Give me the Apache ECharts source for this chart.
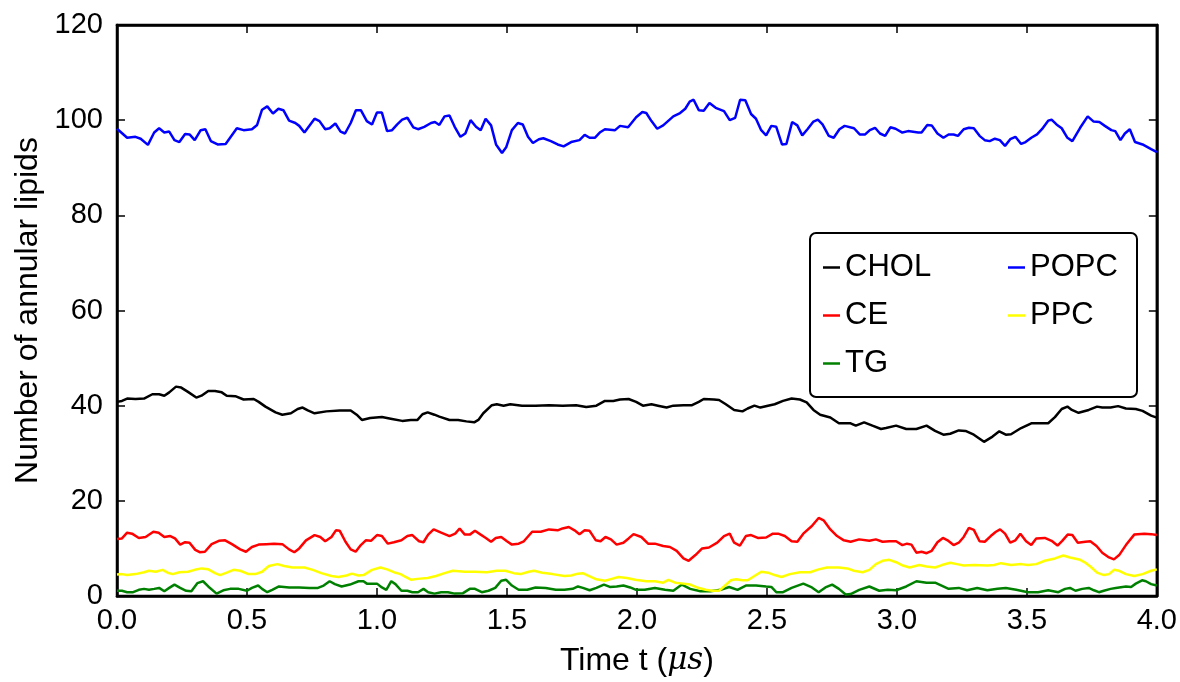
<!DOCTYPE html>
<html><head><meta charset="utf-8">
<script src="https://cdn.jsdelivr.net/npm/echarts@6/dist/echarts.min.js"></script>
<style>html,body{margin:0;padding:0;background:#fff}#c{width:1180px;height:682px}</style>
</head><body><div id="c"></div>
<script>
// ---- data: [time (µs), number of annular lipids] ----
const seriesNames = ['CHOL', 'CE', 'TG', 'POPC', 'PPC'];
const seriesColors = ['#000000', '#ff0000', '#008000', '#0000ff', '#ffff00'];
const legendCol1 = ['CHOL', 'CE', 'TG'];
const legendCol2 = ['POPC', 'PPC'];
const xTicks = { min: 0, max: 4, interval: 0.5 };
const yTicks = { min: 0, max: 120, interval: 20 };

const POPC = [[0.00,98.2],[0.039,96.3],[0.071,96.5],[0.091,96.1],[0.119,94.8],[0.143,97.4],[0.162,98.3],[0.182,97.4],[0.201,97.6],[0.221,95.8],[0.240,95.4],[0.262,97.1],[0.279,97.0],[0.299,95.8],[0.322,97.9],[0.340,98.1],[0.361,95.6],[0.387,94.9],[0.418,95.0],[0.461,98.3],[0.487,97.9],[0.519,98.1],[0.539,99.0],[0.558,102.2],[0.578,102.9],[0.600,101.4],[0.621,102.4],[0.640,102.1],[0.662,99.9],[0.686,99.4],[0.701,98.8],[0.721,97.4],[0.760,100.3],[0.779,99.8],[0.801,98.1],[0.818,98.3],[0.840,99.3],[0.860,97.6],[0.877,97.2],[0.899,99.4],[0.919,102.1],[0.938,102.1],[0.961,99.8],[0.981,99.1],[1.000,101.6],[1.019,101.6],[1.039,97.7],[1.058,97.9],[1.078,99.1],[1.097,100.1],[1.117,100.5],[1.140,98.5],[1.158,98.1],[1.182,98.6],[1.208,99.4],[1.223,99.6],[1.240,99.0],[1.260,100.8],[1.279,101.0],[1.299,98.6],[1.321,96.5],[1.340,97.2],[1.360,100.0],[1.381,98.6],[1.399,97.9],[1.418,100.3],[1.439,98.9],[1.458,94.9],[1.481,93.1],[1.497,94.3],[1.519,97.9],[1.542,99.4],[1.561,99.1],[1.581,96.5],[1.600,95.2],[1.623,96.0],[1.640,96.2],[1.669,95.6],[1.695,94.9],[1.718,94.5],[1.747,95.4],[1.779,95.8],[1.799,96.9],[1.818,96.3],[1.838,96.3],[1.857,97.4],[1.877,98.1],[1.916,97.9],[1.935,98.8],[1.966,98.5],[1.997,100.6],[2.021,101.7],[2.036,101.5],[2.056,99.8],[2.078,98.2],[2.101,98.9],[2.140,100.8],[2.166,101.5],[2.186,102.4],[2.203,103.9],[2.218,104.3],[2.238,102.1],[2.257,102.0],[2.279,103.6],[2.303,102.6],[2.335,101.9],[2.357,100.0],[2.378,100.5],[2.397,104.3],[2.417,104.2],[2.439,101.3],[2.458,100.3],[2.478,97.9],[2.497,96.8],[2.517,98.8],[2.536,98.6],[2.558,94.9],[2.575,95.0],[2.597,99.6],[2.617,98.9],[2.636,96.8],[2.656,98.1],[2.679,99.7],[2.696,100.1],[2.714,99.1],[2.738,96.7],[2.757,96.3],[2.779,98.1],[2.799,98.8],[2.835,98.3],[2.857,97.0],[2.878,97.0],[2.896,97.9],[2.916,98.4],[2.935,97.2],[2.955,96.7],[2.975,98.5],[2.995,98.2],[3.021,97.4],[3.043,97.7],[3.082,97.4],[3.095,97.4],[3.117,99.0],[3.134,98.9],[3.156,97.2],[3.179,96.3],[3.199,97.0],[3.218,97.0],[3.235,96.7],[3.257,98.1],[3.277,98.4],[3.296,98.3],[3.318,96.7],[3.338,95.8],[3.357,95.6],[3.377,96.1],[3.396,95.8],[3.416,94.6],[3.436,96.0],[3.456,96.5],[3.478,95.0],[3.495,95.4],[3.517,96.3],[3.539,97.0],[3.558,98.1],[3.582,99.9],[3.595,100.1],[3.614,99.1],[3.634,98.3],[3.656,96.3],[3.675,95.6],[3.705,98.4],[3.734,100.8],[3.757,99.7],[3.779,99.6],[3.800,98.8],[3.825,97.9],[3.840,97.7],[3.860,95.8],[3.877,97.2],[3.896,98.1],[3.916,95.4],[3.945,94.9],[3.978,93.9],[4.000,93.3]];

const CHOL = [[0.00,40.8],[0.019,41.0],[0.039,41.5],[0.071,41.4],[0.104,41.5],[0.136,42.4],[0.162,42.4],[0.182,42.1],[0.201,42.8],[0.227,44.0],[0.247,43.8],[0.273,42.9],[0.305,41.7],[0.325,42.1],[0.351,43.1],[0.377,43.1],[0.403,42.8],[0.422,42.1],[0.455,42.0],[0.487,41.3],[0.526,41.4],[0.545,40.8],[0.571,39.8],[0.610,38.6],[0.636,38.1],[0.669,38.4],[0.695,39.3],[0.714,39.6],[0.734,39.0],[0.760,38.4],[0.805,38.8],[0.857,39.0],[0.899,39.0],[0.922,38.1],[0.942,37.0],[0.974,37.4],[1.019,37.6],[1.058,37.2],[1.097,36.8],[1.130,37.0],[1.156,37.0],[1.175,38.2],[1.195,38.6],[1.221,38.1],[1.240,37.7],[1.279,37.0],[1.312,37.0],[1.344,36.7],[1.374,36.5],[1.390,37.0],[1.409,38.4],[1.442,40.1],[1.461,40.3],[1.487,40.0],[1.513,40.3],[1.558,40.0],[1.610,40.0],[1.662,40.1],[1.714,40.0],[1.766,40.1],[1.805,39.7],[1.844,40.0],[1.877,41.0],[1.909,41.0],[1.935,41.3],[1.968,41.4],[1.997,40.8],[2.023,40.0],[2.056,40.3],[2.081,40.0],[2.114,39.6],[2.140,40.0],[2.179,40.1],[2.212,40.1],[2.238,40.8],[2.257,41.4],[2.296,41.3],[2.316,41.2],[2.342,40.3],[2.374,39.1],[2.406,38.8],[2.426,39.4],[2.452,40.0],[2.475,39.6],[2.504,40.0],[2.530,40.3],[2.562,41.0],[2.595,41.5],[2.627,41.3],[2.653,40.7],[2.679,39.1],[2.705,38.1],[2.744,37.5],[2.777,36.3],[2.822,36.3],[2.842,35.8],[2.874,36.5],[2.906,35.8],[2.939,35.1],[2.958,35.3],[2.997,35.8],[3.036,35.1],[3.075,35.1],[3.114,35.8],[3.147,34.7],[3.179,33.9],[3.205,34.1],[3.238,34.8],[3.264,34.7],[3.296,33.9],[3.335,32.4],[3.368,33.5],[3.394,34.6],[3.419,33.9],[3.439,34.0],[3.478,35.3],[3.517,36.3],[3.582,36.3],[3.608,37.6],[3.634,39.3],[3.656,39.8],[3.673,39.1],[3.699,38.5],[3.738,39.1],[3.770,39.8],[3.790,39.6],[3.822,39.6],[3.851,39.9],[3.881,39.4],[3.919,39.3],[3.945,38.9],[3.978,37.9],[4.000,37.5]];

const CE = [[0.00,12.0],[0.019,12.1],[0.039,13.3],[0.058,13.1],[0.084,12.2],[0.110,12.4],[0.140,13.5],[0.160,13.3],[0.182,12.4],[0.205,12.6],[0.223,12.1],[0.243,10.8],[0.262,11.3],[0.279,11.2],[0.301,9.7],[0.318,9.2],[0.338,9.3],[0.364,10.9],[0.392,11.6],[0.416,11.7],[0.442,10.9],[0.474,9.8],[0.496,9.3],[0.519,10.3],[0.545,10.8],[0.574,10.9],[0.604,11.0],[0.636,10.9],[0.662,9.8],[0.682,9.2],[0.701,10.0],[0.727,11.7],[0.760,12.8],[0.782,12.4],[0.801,11.5],[0.825,12.4],[0.842,13.8],[0.857,13.7],[0.879,11.4],[0.899,9.8],[0.918,9.3],[0.938,10.7],[0.957,11.7],[0.977,11.6],[1.000,12.8],[1.019,12.6],[1.042,11.0],[1.065,11.3],[1.094,11.7],[1.117,12.6],[1.136,12.8],[1.162,11.5],[1.179,11.3],[1.197,12.9],[1.218,14.0],[1.247,13.3],[1.279,12.6],[1.301,13.1],[1.318,14.2],[1.338,12.9],[1.357,12.9],[1.377,13.7],[1.399,12.9],[1.416,12.3],[1.439,11.4],[1.457,12.2],[1.478,12.4],[1.500,11.5],[1.519,10.8],[1.545,11.0],[1.565,11.5],[1.597,13.5],[1.630,13.5],[1.662,14.0],[1.695,13.8],[1.714,14.2],[1.738,14.5],[1.760,13.8],[1.779,13.0],[1.799,13.8],[1.818,13.7],[1.842,11.7],[1.860,11.5],[1.879,12.4],[1.900,11.9],[1.922,10.8],[1.948,11.2],[1.968,12.1],[1.987,13.0],[2.017,12.4],[2.043,11.0],[2.069,11.0],[2.101,10.5],[2.127,10.3],[2.153,9.5],[2.179,7.9],[2.199,7.4],[2.225,8.6],[2.251,10.0],[2.277,10.2],[2.309,11.2],[2.335,12.6],[2.357,13.1],[2.374,11.2],[2.396,10.6],[2.419,12.6],[2.439,12.8],[2.465,12.2],[2.497,12.3],[2.523,13.1],[2.543,13.1],[2.569,12.6],[2.595,11.5],[2.617,11.4],[2.640,13.1],[2.673,14.7],[2.699,16.4],[2.718,15.9],[2.744,14.0],[2.770,12.6],[2.796,11.7],[2.822,11.4],[2.855,11.9],[2.894,11.6],[2.919,11.9],[2.945,11.4],[2.971,11.5],[2.997,11.5],[3.021,10.7],[3.039,11.0],[3.056,10.8],[3.075,9.1],[3.095,9.3],[3.114,9.0],[3.134,9.5],[3.156,11.3],[3.177,12.2],[3.195,11.7],[3.218,10.7],[3.238,11.2],[3.257,12.4],[3.277,14.3],[3.296,13.9],[3.318,11.5],[3.338,11.4],[3.361,12.6],[3.381,13.5],[3.397,14.0],[3.416,13.1],[3.436,11.2],[3.456,11.7],[3.475,13.1],[3.497,11.5],[3.517,10.7],[3.536,12.1],[3.569,12.2],[3.595,11.6],[3.618,10.6],[3.636,11.6],[3.657,12.9],[3.675,12.8],[3.696,11.2],[3.725,11.4],[3.744,11.5],[3.768,10.5],[3.790,9.1],[3.816,8.1],[3.835,7.7],[3.855,8.6],[3.881,10.7],[3.913,12.9],[3.952,13.1],[3.978,13.0],[4.000,12.8]];

const PPC = [[0.00,4.5],[0.019,4.6],[0.039,4.4],[0.071,4.6],[0.104,5.0],[0.123,5.3],[0.149,5.1],[0.175,5.5],[0.195,4.9],[0.214,4.6],[0.240,5.0],[0.273,5.1],[0.299,5.5],[0.325,5.8],[0.351,5.6],[0.377,4.8],[0.396,4.4],[0.422,4.9],[0.448,5.5],[0.474,5.3],[0.506,4.6],[0.532,4.6],[0.558,5.1],[0.584,6.3],[0.617,6.7],[0.643,6.3],[0.675,6.0],[0.721,6.0],[0.753,5.5],[0.786,4.8],[0.825,4.2],[0.851,4.0],[0.883,4.3],[0.903,4.7],[0.929,4.3],[0.948,4.4],[0.981,5.5],[1.013,6.0],[1.039,5.6],[1.065,5.0],[1.091,4.6],[1.110,4.0],[1.132,3.4],[1.156,3.6],[1.195,3.8],[1.227,4.2],[1.260,4.8],[1.292,5.3],[1.338,5.1],[1.377,5.1],[1.422,5.0],[1.461,5.3],[1.494,5.3],[1.526,4.8],[1.552,4.6],[1.584,5.1],[1.604,5.3],[1.636,4.9],[1.675,4.6],[1.721,4.2],[1.747,4.3],[1.773,4.7],[1.792,4.8],[1.812,4.3],[1.844,3.5],[1.877,3.2],[1.903,3.6],[1.929,4.0],[1.961,3.8],[1.994,3.4],[2.036,3.1],[2.069,3.1],[2.101,2.8],[2.121,3.4],[2.147,2.8],[2.179,2.6],[2.205,2.4],[2.231,1.8],[2.264,1.3],[2.290,1.1],[2.316,1.1],[2.335,2.0],[2.361,3.3],[2.381,3.5],[2.406,3.3],[2.426,3.3],[2.452,4.2],[2.478,5.1],[2.504,4.9],[2.530,4.4],[2.556,4.0],[2.588,4.6],[2.627,5.0],[2.666,5.0],[2.699,5.6],[2.731,6.0],[2.777,6.0],[2.809,5.8],[2.835,5.3],[2.868,5.0],[2.894,5.5],[2.919,6.7],[2.945,7.4],[2.971,7.6],[2.997,7.1],[3.023,6.4],[3.049,6.0],[3.086,6.5],[3.114,6.2],[3.147,6.0],[3.173,6.5],[3.205,7.0],[3.231,6.7],[3.257,6.4],[3.296,6.5],[3.348,6.4],[3.374,6.5],[3.400,6.9],[3.439,6.5],[3.478,6.7],[3.504,6.5],[3.536,6.7],[3.569,7.4],[3.608,7.9],[3.640,8.5],[3.666,8.1],[3.705,7.6],[3.725,7.0],[3.744,6.2],[3.770,4.9],[3.796,4.4],[3.816,4.6],[3.835,5.5],[3.855,5.3],[3.881,4.6],[3.913,4.2],[3.945,4.6],[3.978,5.3],[4.000,5.6]];

const TG = [[0.00,1.1],[0.019,1.1],[0.039,0.8],[0.062,0.8],[0.084,1.3],[0.104,1.5],[0.123,1.3],[0.143,1.5],[0.162,1.7],[0.182,1.0],[0.201,1.7],[0.221,2.4],[0.243,1.7],[0.266,1.1],[0.286,1.0],[0.309,2.7],[0.331,3.1],[0.351,2.0],[0.383,0.5],[0.409,1.2],[0.435,1.5],[0.468,1.5],[0.500,1.1],[0.519,1.7],[0.543,2.2],[0.558,1.5],[0.578,0.8],[0.597,1.3],[0.623,2.0],[0.662,1.8],[0.701,1.8],[0.740,1.7],[0.773,1.7],[0.795,2.2],[0.818,3.1],[0.838,2.5],[0.864,2.0],[0.896,2.4],[0.929,3.1],[0.948,3.1],[0.961,2.6],[1.000,2.6],[1.019,1.8],[1.036,1.3],[1.055,3.1],[1.071,2.5],[1.094,1.1],[1.117,1.1],[1.136,0.8],[1.158,0.8],[1.179,1.5],[1.197,0.8],[1.221,0.5],[1.247,0.8],[1.273,0.8],[1.299,0.5],[1.331,0.6],[1.357,1.5],[1.377,1.5],[1.403,0.8],[1.429,1.1],[1.455,1.7],[1.478,3.2],[1.497,3.4],[1.519,2.2],[1.545,1.3],[1.578,1.3],[1.610,1.8],[1.649,1.7],[1.688,1.3],[1.721,1.3],[1.753,1.5],[1.773,2.0],[1.792,1.7],[1.818,1.2],[1.844,1.7],[1.873,2.4],[1.896,1.9],[1.922,2.0],[1.948,2.2],[1.974,1.8],[1.997,1.3],[2.030,1.3],[2.069,1.7],[2.108,1.3],[2.140,1.1],[2.173,2.4],[2.205,1.5],[2.244,1.0],[2.283,1.0],[2.322,1.3],[2.355,1.9],[2.387,1.3],[2.419,2.2],[2.458,2.2],[2.497,2.0],[2.517,1.9],[2.536,0.8],[2.562,0.8],[2.595,1.7],[2.640,2.6],[2.673,1.8],[2.699,0.8],[2.725,1.8],[2.751,2.4],[2.777,1.5],[2.803,0.3],[2.822,0.4],[2.855,1.3],[2.894,2.0],[2.932,1.1],[2.965,1.3],[2.997,1.2],[3.036,2.0],[3.075,3.1],[3.114,2.8],[3.147,2.8],[3.199,1.5],[3.238,1.7],[3.270,1.2],[3.309,1.7],[3.348,1.2],[3.387,1.5],[3.419,1.7],[3.459,1.3],[3.504,0.8],[3.543,0.8],[3.582,1.2],[3.621,0.8],[3.647,1.5],[3.666,1.7],[3.687,1.1],[3.713,1.5],[3.738,1.7],[3.758,1.2],[3.777,0.8],[3.796,1.1],[3.822,1.5],[3.842,1.7],[3.881,2.0],[3.901,1.9],[3.919,2.6],[3.943,3.3],[3.958,3.1],[3.978,2.5],[4.000,2.2]];

const seriesData = { CHOL, CE, TG, POPC, PPC };

// ---- chart ----
const FONT = 'Liberation Sans, Arial, sans-serif';
const chart = echarts.init(document.getElementById('c'), null, { renderer: 'canvas' });

function frameAxis(extra) {
  return Object.assign({
    type: 'value',
    axisLine: { show: true, onZero: false, lineStyle: { color: '#000', width: 2.5 } },
    axisTick: { show: true, inside: true, length: 8, lineStyle: { color: '#000', width: 1.5 } },
    splitLine: { show: false },
    axisLabel: { show: false }
  }, extra);
}

const option = {
  backgroundColor: '#ffffff',
  animation: false,
  grid: { left: 117, right: 23, top: 25, bottom: 79, show: true, borderColor: '#000', borderWidth: 2.5, containLabel: false },
  xAxis: [
    frameAxis({
      position: 'bottom', min: xTicks.min, max: xTicks.max, interval: xTicks.interval,
      axisLabel: { show: true, color: '#000', fontSize: 29, fontFamily: FONT, margin: 10,
        formatter: v => v.toFixed(1) },
      name: 'Time t ({m|μs})', nameLocation: 'middle', nameGap: 49,
      nameTextStyle: { color: '#000', fontSize: 32, fontFamily: FONT,
        rich: { m: { fontStyle: 'italic', fontFamily: 'DejaVu Serif, Liberation Serif, serif', fontSize: 31, color: '#000' } } }
    }),
    frameAxis({ position: 'top', min: xTicks.min, max: xTicks.max, interval: xTicks.interval })
  ],
  yAxis: [
    frameAxis({
      position: 'left', min: yTicks.min, max: yTicks.max, interval: yTicks.interval,
      axisLabel: { show: true, color: '#000', fontSize: 29, fontFamily: FONT, margin: 14 },
      name: 'Number of annular lipids', nameLocation: 'middle', nameGap: 70,
      nameTextStyle: { color: '#000', fontSize: 32, fontFamily: FONT }
    }),
    frameAxis({ position: 'right', min: yTicks.min, max: yTicks.max, interval: yTicks.interval })
  ],
  legend: [
    { data: legendCol1, orient: 'vertical', left: 823, top: 252, padding: 0, itemGap: 17,
      icon: 'rect', itemWidth: 17, itemHeight: 2.5, selectedMode: false,
      textStyle: { color: '#000', fontSize: 31, fontFamily: FONT } },
    { data: legendCol2, orient: 'vertical', left: 1008, top: 252, padding: 0, itemGap: 17,
      icon: 'rect', itemWidth: 17, itemHeight: 2.5, selectedMode: false,
      textStyle: { color: '#000', fontSize: 31, fontFamily: FONT } }
  ],
  graphic: [
    { type: 'rect', z: 3, shape: { x: 810, y: 233, width: 327, height: 164, r: 6 },
      style: { fill: '#ffffff', stroke: '#000000', lineWidth: 2 } }
  ],
  series: seriesNames.map((name, i) => ({
    name, type: 'line', xAxisIndex: 0, yAxisIndex: 0,
    data: seriesData[name], showSymbol: false, symbol: 'none',
    color: seriesColors[i],
    lineStyle: { color: seriesColors[i], width: 2.5 },
    itemStyle: { color: seriesColors[i] },
    z: 2
  }))
};
chart.setOption(option);
</script>
</body></html>
